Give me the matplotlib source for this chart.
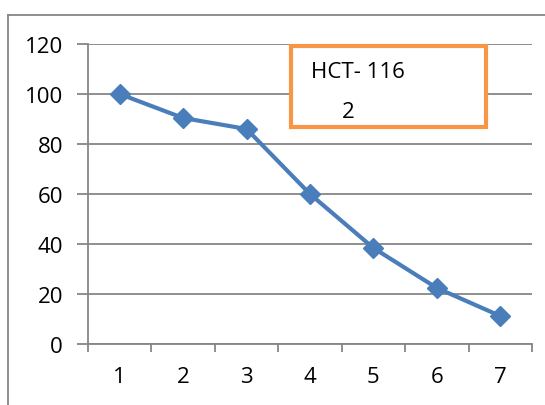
import matplotlib.pyplot as plt
from matplotlib.lines import Line2D
from matplotlib.patches import Rectangle
import numpy as np

plt.rcParams['font.family'] = ['Open Sans', 'DejaVu Sans']

# HCT-116 survival curve
days = [1, 2, 3, 4, 5, 6, 7]
values = [100, 90.4, 86, 60, 38.4, 22.4, 11.2]
yticks = [0, 20, 40, 60, 80, 100, 120]

fig = plt.figure(figsize=(5.45, 4.06), dpi=100)
ax = fig.add_axes([88/545, 1-345/406, (532-88)/545, 300/406])

grid_c = '#868686'
ax.plot(days, values, color='#4A7EBB', lw=3, marker='D', markersize=10,
        markeredgecolor='#4A7EBB', zorder=3, clip_on=False)

ax.set_xlim(0.5, 7.5)
ax.set_ylim(0, 120)
ax.set_yticks(yticks)
ax.set_xticks(days)
ax.set_xticks(np.arange(0.5, 8.0, 1.0), minor=True)
ax.yaxis.grid(True, color=grid_c, lw=1.3)
ax.set_axisbelow(True)

for s in ['top', 'right']:
    ax.spines[s].set_visible(False)
for s in ['left', 'bottom']:
    ax.spines[s].set_color(grid_c)
    ax.spines[s].set_linewidth(1.3)

ax.tick_params(axis='y', length=8, width=1.3, color=grid_c, pad=10,
               labelsize=16, labelcolor='black')
ax.tick_params(axis='x', which='major', length=0, pad=16, labelsize=16,
               labelcolor='black')
ax.tick_params(axis='x', which='minor', length=6, width=1.3, color=grid_c)

# chart area border
fig.add_artist(Line2D([8/545, 8/545], [0, 1-16/406], color=grid_c, lw=1.3))
fig.add_artist(Line2D([8/545, 1], [1-16/406, 1-16/406], color=grid_c, lw=1.3))

# title box
fig.add_artist(Rectangle((291/545, 1-128/406), 195/545, 81/406,
                         transform=fig.transFigure, facecolor='white',
                         edgecolor='#F79646', lw=3, zorder=5))
fig.text(311/545, 1-73/406, 'HCT- 116', fontsize=16, va='center', zorder=6)
fig.text(342/545, 1-112/406, '2', fontsize=16, va='center', zorder=6)

fig.savefig('out.png', dpi=100)
